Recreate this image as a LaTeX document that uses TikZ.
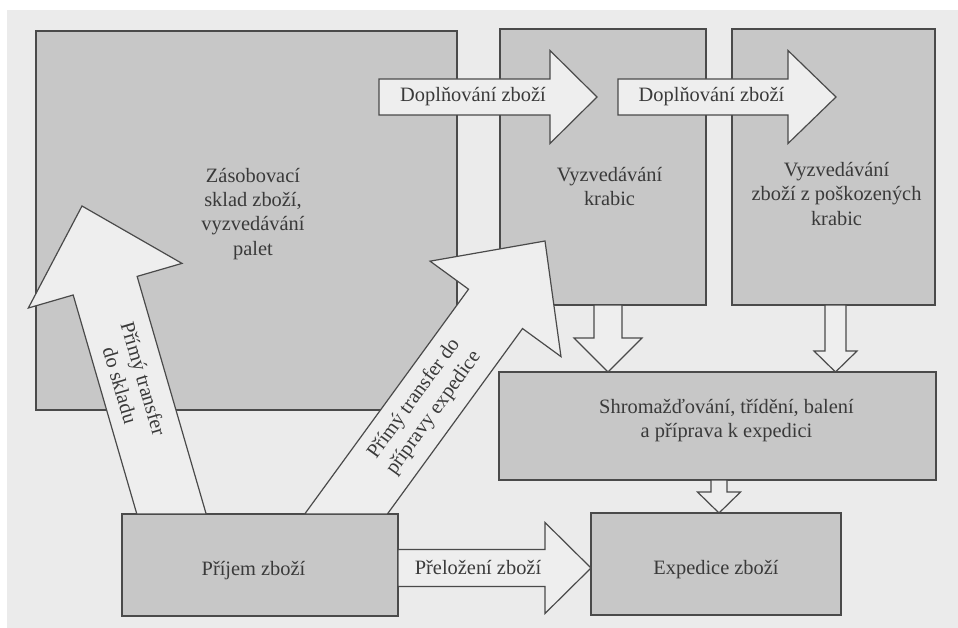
\documentclass[tikz,border=0pt]{standalone}
\usepackage{fontspec}
\setmainfont{Liberation Serif}
\usetikzlibrary{calc}
\definecolor{bgcol}{HTML}{EBEBEB}
\definecolor{boxfill}{HTML}{C7C7C7}
\definecolor{arrfill}{HTML}{EEEEEE}
\definecolor{edgecol}{HTML}{4A4A4A}
\definecolor{txtcol}{HTML}{3A3A3A}
% #1 name, #2 from, #3 tip, #4 shaft half width, #5 head half width, #6 head length, #7 style
\newcommand{\blockarrow}[7]{%
  \coordinate (#1-b) at ($(#3)!#6!(#2)$);
  \draw[#7] ($(#2)!#4!90:(#3)$) -- ($(#1-b)!#4!90:(#3)$) -- ($(#1-b)!#5!90:(#3)$)
    -- (#3) -- ($(#1-b)!#5!-90:(#3)$) -- ($(#1-b)!#4!-90:(#3)$) -- ($(#2)!#4!-90:(#3)$) -- cycle;
}
% same, but the shaft is cut by the horizontal line through the start point
\newcommand{\diagarrow}[7]{%
  \coordinate (#1-b) at ($(#3)!#6!(#2)$);
  \coordinate (#1-bp) at ($(#1-b)!#4!90:(#3)$);
  \coordinate (#1-bm) at ($(#1-b)!#4!-90:(#3)$);
  \coordinate (#1-sp0) at ($(#2)!#4!90:(#3)$);
  \coordinate (#1-sm0) at ($(#2)!#4!-90:(#3)$);
  \coordinate (#1-h) at ($(#2)+(10,0)$);
  \coordinate (#1-sp) at (intersection of #1-bp--#1-sp0 and #2--#1-h);
  \coordinate (#1-sm) at (intersection of #1-bm--#1-sm0 and #2--#1-h);
  \draw[#7] (#1-sp) -- (#1-bp) -- ($(#1-b)!#5!90:(#3)$)
    -- (#3) -- ($(#1-b)!#5!-90:(#3)$) -- (#1-bm) -- (#1-sm) -- cycle;
}
\begin{document}
\begin{tikzpicture}[x=1pt,y=-1pt,
  box/.style={draw=edgecol, fill=boxfill, line width=1.2pt, anchor=north west, inner sep=0pt, outer sep=0pt},
  blk/.style={draw=edgecol, fill=arrfill, line width=1.2pt, line join=miter},
  lbl/.style={text=txtcol, font=\fontsize{20.4}{24.3}\selectfont, inner sep=0pt, align=center}]
\useasboundingbox (0,0) rectangle (958,628);
\fill[white] (0,0) rectangle (958,628);
\fill[bgcol] (7,10) rectangle (958,628);

% boxes
\node[box, minimum width=421pt, minimum height=379pt] (sklad) at (36,31) {};
\node[box, minimum width=206pt, minimum height=276pt] (krabice) at (500,29) {};
\node[box, minimum width=203pt, minimum height=276pt] (poskoz) at (732,29) {};
\node[box, minimum width=437pt, minimum height=108pt] (shrom) at (499,372) {};
\node[box, minimum width=250pt, minimum height=102pt] (exped) at (591,513) {};
\node[box, minimum width=276pt, minimum height=102pt] (prijem) at (122,514) {};

% arrow end points
\coordinate (d1s) at (379,97);
\coordinate (d1t) at (597,97);
\coordinate (d2s) at (618,97);
\coordinate (d2t) at (836,97);
\coordinate (v1x) at (608,0);
\coordinate (v1s) at (v1x |- krabice.south);
\coordinate (v1t) at (v1x |- shrom.north);
\coordinate (v2x) at (835.5,0);
\coordinate (v2s) at (v2x |- poskoz.south);
\coordinate (v2t) at (v2x |- shrom.north);
\coordinate (v3x) at (719,0);
\coordinate (v3s) at (v3x |- shrom.south);
\coordinate (v3t) at (v3x |- exped.north);
\coordinate (hy) at (0,568);
\coordinate (hs) at (hy -| prijem.east);
\coordinate (ht) at (hy -| exped.west);
\coordinate (p1x) at (171.5,0);
\coordinate (p1s) at (p1x |- prijem.north);
\coordinate (p1t) at (82,206);
\coordinate (p2x) at (346,0);
\coordinate (p2s) at (p2x |- prijem.north);
\coordinate (p2t) at (545,241);

% block arrows
\blockarrow{av1}{v1s}{v1t}{14pt}{34pt}{34pt}{blk}
\blockarrow{av2}{v2s}{v2t}{10.5pt}{21.5pt}{21pt}{blk}
\blockarrow{av3}{v3s}{v3t}{8pt}{21.5pt}{21pt}{blk}
\blockarrow{ah}{hs}{ht}{18.5pt}{45.5pt}{46pt}{blk}
\diagarrow{ap1}{p1s}{p1t}{33.3pt}{80pt}{83pt}{blk}
\diagarrow{ap2}{p2s}{p2t}{33.4pt}{81pt}{84pt}{blk}
\blockarrow{ad1}{d1s}{d1t}{18pt}{46.5pt}{47pt}{blk}
\blockarrow{ad2}{d2s}{d2t}{18pt}{46.5pt}{48pt}{blk}

% texts
\node[lbl] (tsklad) at (253,213.7) {Zásobovací\\sklad zboží,\\vyzvedávání\\palet};
\node[lbl] (tkrab) at (609.5,186.7) {Vyzvedávání\\krabic};
\node[lbl] (tposk) at (836.5,194) {Vyzvedávání\\zboží z poškozených\\krabic};
\node[lbl] (tshrom) at (726.5,420.5) {Shromažďování, třídění, balení\\a příprava k expedici};
\node[lbl, anchor=base] (texp) at (716,574) {Expedice zboží};
\node[lbl, anchor=base] (tpri) at (253.5,575) {Příjem zboží};
\node[lbl, anchor=base] (td1) at (473,102) {Doplňování zboží};
\node[lbl, anchor=base] (td2) at (711.5,102) {Doplňování zboží};
\node[lbl, anchor=base] (tprel) at (478,574) {Přeložení zboží};
\node[lbl, rotate=-73.66] (tp1) at (132,382) {Přímý transfer\\do skladu};
\node[lbl, rotate=54.1] (tp2) at (424,406) {Přímý transfer do\\přípravy expedice};
\end{tikzpicture}
\end{document}
